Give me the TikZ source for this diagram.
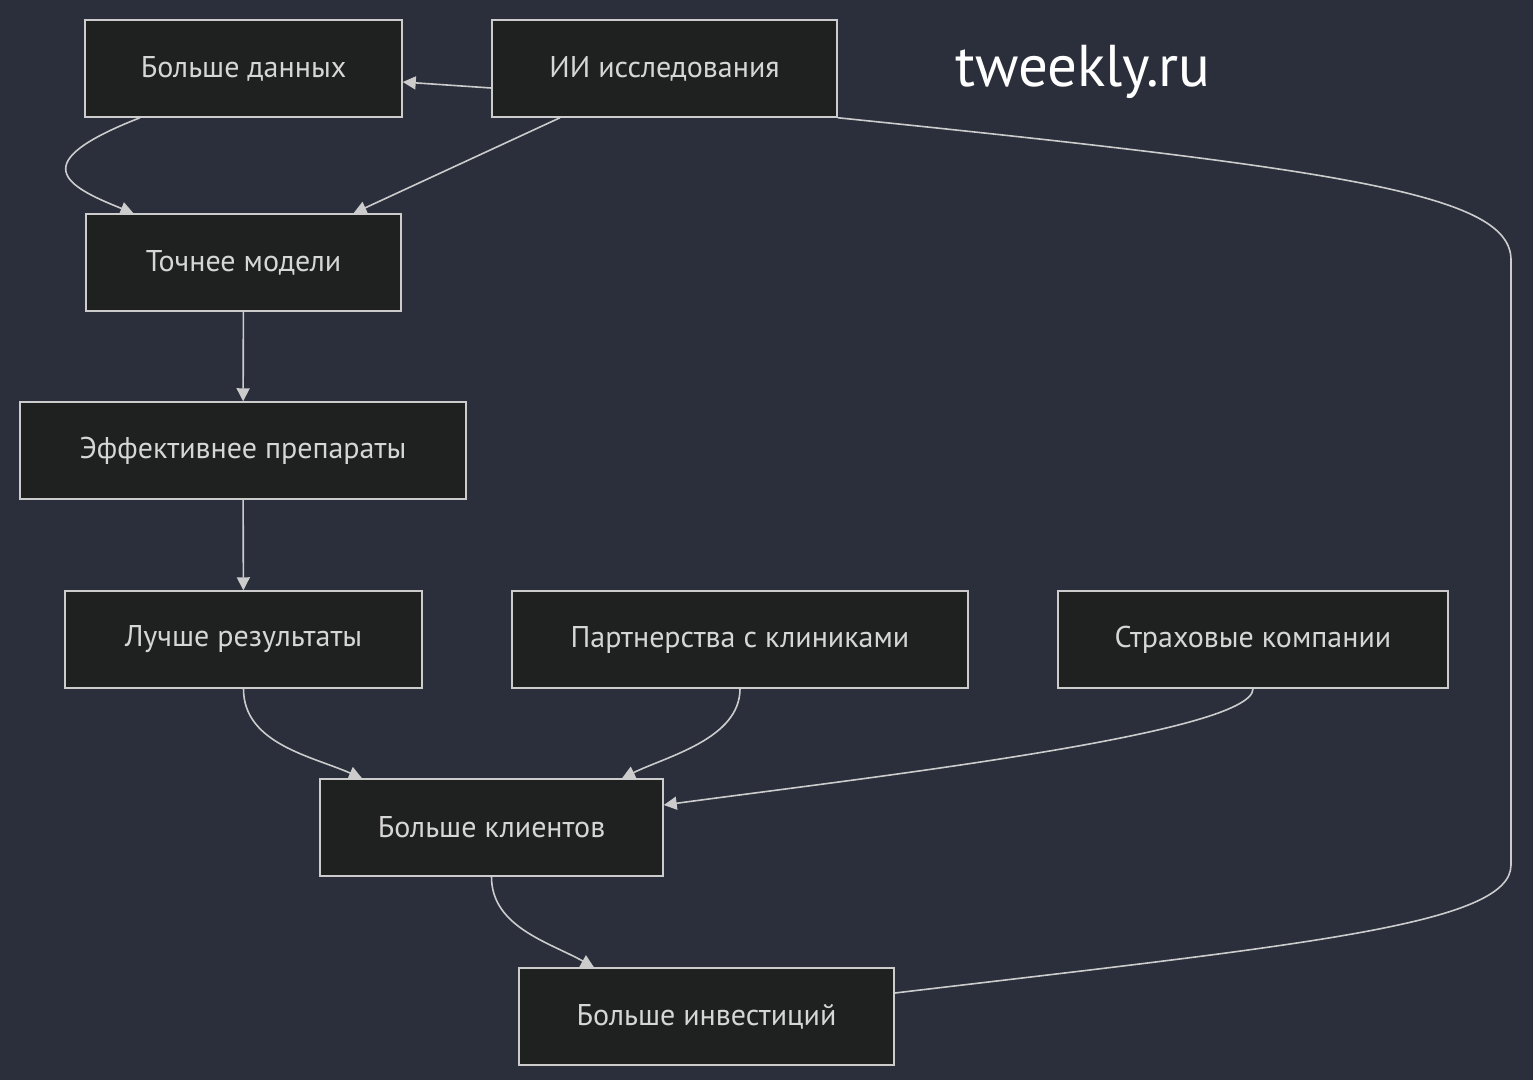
\documentclass[tikz,border=0pt]{standalone}
\usepackage{fontspec}
\setmainfont{PT Sans}
\usepackage{tikz}
\usetikzlibrary{shapes,arrows.meta}
\definecolor{bgcol}{HTML}{2A2F3B}
\definecolor{boxcol}{HTML}{1F2020}
\definecolor{linecol}{HTML}{CCCCCC}
\definecolor{textcol}{HTML}{D6D6D6}
\tikzstyle{block} = [rectangle, draw=linecol, fill=boxcol, line width=1.5pt, text=textcol, minimum height=97pt, inner sep=0pt, font=\fontsize{30}{34}\selectfont]
\tikzstyle{line} = [draw=linecol, line width=1.6pt]
\tikzstyle{arrow} = [line, -{Triangle[length=13pt,width=13pt]}]

\begin{document}
\begin{tikzpicture}[x=1pt,y=-1pt]
        \fill[bgcol] (0,0) rectangle (1533,1080);
        \useasboundingbox (0,0) rectangle (1533,1080);

        \node (Bd) [block, minimum width=317pt] at (243.5,68.5) {Больше данных};
        \node (Ii) [block, minimum width=345pt] at (664.5,68.5) {ИИ исследования};
        \node (Tw) [text=white, font=\fontsize{59}{64}\selectfont] at (1083,72) {tweekly.ru};
        \node (Tm) [block, minimum width=315pt] at (243.5,262.5) {Точнее модели};
        \node (Ep) [block, minimum width=446pt] at (243,450.5) {Эффективнее препараты};
        \node (Lr) [block, minimum width=357pt] at (243.5,639.5) {Лучше результаты};
        \node (Pk) [block, minimum width=456pt] at (740,639.5) {Партнерства с клиниками};
        \node (Sk) [block, minimum width=390pt] at (1253,639.5) {Страховые компании};
        \node (Kl) [block, minimum width=343pt] at (491.5,827.5) {Больше клиентов};
        \node (Iv) [block, minimum width=375pt] at (706.5,1016.5) {Больше инвестиций};

        \path [arrow] ([yshift=-19.5pt]Ii.west) -- ([yshift=-13.5pt]Bd.east);
        \path [arrow] ([xshift=-103.5pt]Bd.south) .. controls +(-115,45) and +(-70,-28) .. ([xshift=-110pt]Tm.north);
        \path [arrow] ([xshift=-104.5pt]Ii.south) -- ([xshift=110pt]Tm.north);
        \path [arrow] (Tm) -- (Ep);
        \path [arrow] (Ep) -- (Lr);
        \path [arrow] (Lr.south) .. controls +(0,55) and +(-50,-22) .. ([xshift=-129.5pt]Kl.north);
        \path [arrow] (Pk.south) .. controls +(0,50) and +(45,-22) .. ([xshift=130.5pt]Kl.north);
        \path [arrow] (Sk.south) .. controls +(0,45) and +(200,-27) .. ([yshift=22.5pt]Kl.east);
        \path [arrow] (Kl.south) .. controls +(0,50) and +(-45,-25) .. ([xshift=-112.5pt]Iv.north);
        \path [line] (Ii.south east) .. controls (1350,170) and (1511,195) .. (1511,260) -- (1511,865) .. controls (1511,925) and (1300,945) .. ([yshift=23.5pt]Iv.east);

    \end{tikzpicture}
\end{document}
